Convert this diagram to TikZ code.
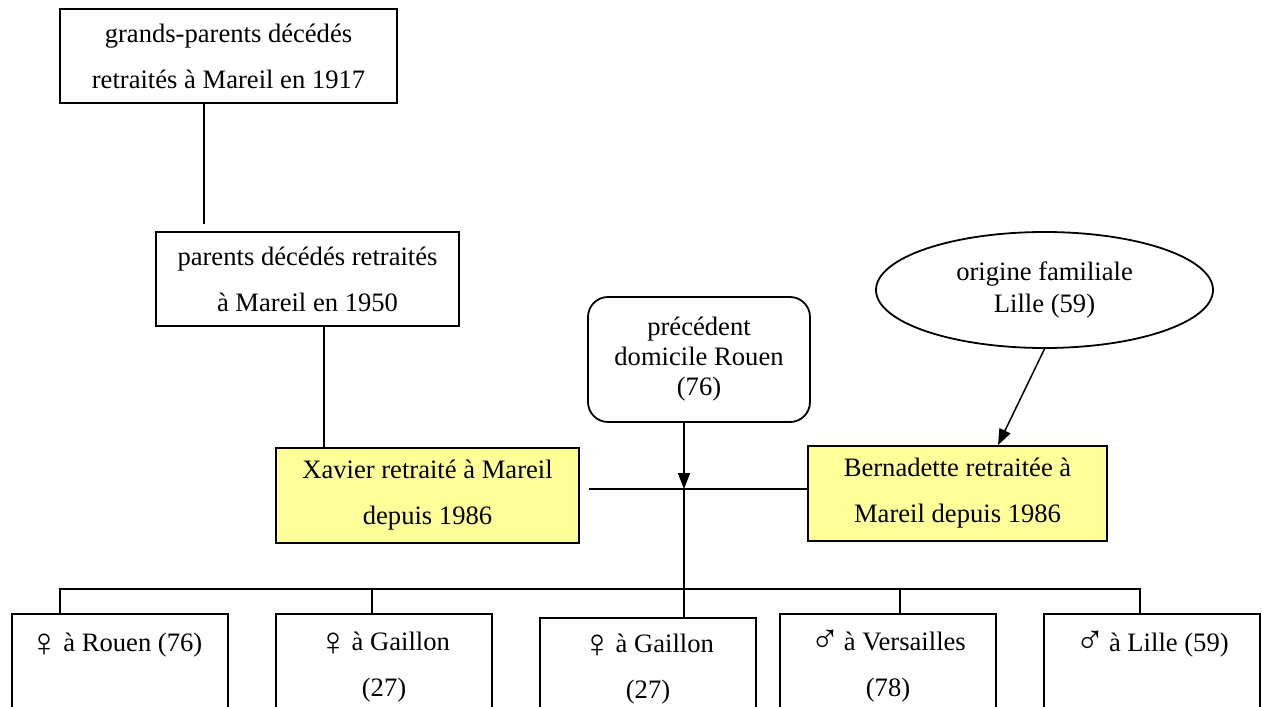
\documentclass[tikz,border=0pt]{standalone}
\usepackage{fontspec}
\setmainfont{Liberation Serif}
\usetikzlibrary{arrows.meta,shapes.geometric}
\definecolor{pale}{RGB}{255,255,153}
\newcommand\femsym{\raisebox{-2.6pt}{\fontsize{20}{20}\selectfont ♀}\kern-1.5pt}
\newcommand\malsym{\raisebox{-1.2pt}{\fontsize{20}{20}\selectfont ♂}\kern-1.5pt}
\begin{document}
\begin{tikzpicture}[x=0.5pt,y=-0.5pt,
  every node/.style={font=\fontsize{13.3}{23}\selectfont},
  box/.style={draw, line width=0.9pt, rectangle, inner sep=0pt, align=center},
  ybox/.style={box, fill=pale},
  ell/.style={draw, line width=0.9pt, ellipse, inner sep=0pt, align=center},
  link/.style={line width=0.75pt},
  arr/.style={link, -{Triangle[length=8pt,width=6pt]}},
]
\useasboundingbox (0,0) rectangle (1262,706);
\clip (0,0) rectangle (1262,706);

\node[box, minimum width=168.5pt, minimum height=47pt] (gp) at (228.5,56)
  {grands-parents décédés\\retraités à Mareil en 1917};
\node[box, minimum width=151.5pt, minimum height=47pt] (p) at (307.5,279)
  {parents décédés retraités\\à Mareil en 1950};
\node[ybox, minimum width=151.5pt, minimum height=47.5pt] (x) at (427.5,495.5)
  {Xavier retraité à Mareil\\depuis 1986};
\node[ybox, minimum width=149.5pt, minimum height=47.5pt] (b) at (957.5,493.5)
  {Bernadette retraitée à\\Mareil depuis 1986};
\node[box, rounded corners=10pt, minimum width=111pt, minimum height=62.5pt,
  font=\fontsize{13.3}{15}\selectfont] (r) at (699,359.5)
  {précédent\\domicile Rouen\\(76)};
\node[ell, minimum width=168.5pt, minimum height=58pt,
  font=\fontsize{13.3}{16}\selectfont] (o) at (1044.5,290)
  {origine familiale\\Lille (59)};

% children boxes
\node[box, anchor=north, minimum width=108pt, minimum height=95pt] (c1) at (120,613) {};
\node[box, anchor=north, minimum width=108pt, minimum height=95pt] (c2) at (384,613) {};
\node[box, anchor=north, minimum width=108pt, minimum height=95pt] (c3) at (648,617) {};
\node[box, anchor=north, minimum width=108pt, minimum height=95pt] (c4) at (888,613) {};
\node[box, anchor=north, minimum width=108pt, minimum height=95pt] (c5) at (1152,613) {};

\node[anchor=base] (c1a) at (116,651) {\femsym{} à Rouen (76)};
\node[anchor=base] (c2a) at (384,650) {\femsym{} à Gaillon};
\node[anchor=base] (c2b) at (384,696) {(27)};
\node[anchor=base] (c3a) at (648,652) {\femsym{} à Gaillon};
\node[anchor=base] (c3b) at (648,698) {(27)};
\node[anchor=base] (c4a) at (888,650) {\malsym{} à Versailles};
\node[anchor=base] (c4b) at (888,696) {(78)};
\node[anchor=base] (c5a) at (1152,651) {\malsym{} à Lille (59)};

% connectors
\coordinate (m) at (684,489);
\coordinate (bus) at (684,589);
\draw[link, shorten >=3.5pt] ([xshift=-12.25pt]gp.south) -- ([xshift=-12.25pt]gp.south |- p.north);
\draw[link] ([xshift=8.25pt]p.south) -- ([xshift=8.25pt]p.south |- x.north);
\draw[link] ([xshift=4.5pt]x.east |- m) -- (b.west |- m);
\draw[arr] (r.south -| m) -- (m);
\draw[link] (m) -- (m |- c3.north);
\draw[link] ([xshift=-30pt]c1.north) |- ([xshift=-6pt]c5.north |- bus) -- ([xshift=-6pt]c5.north);
\draw[link] ([xshift=-6pt]c2.north) -- ([xshift=-6pt]c2.north |- bus);
\draw[link] ([xshift=6pt]c4.north) -- ([xshift=6pt]c4.north |- bus);
\draw[arr] (o.south) -- ([xshift=20.25pt]b.north);
\end{tikzpicture}
\end{document}
